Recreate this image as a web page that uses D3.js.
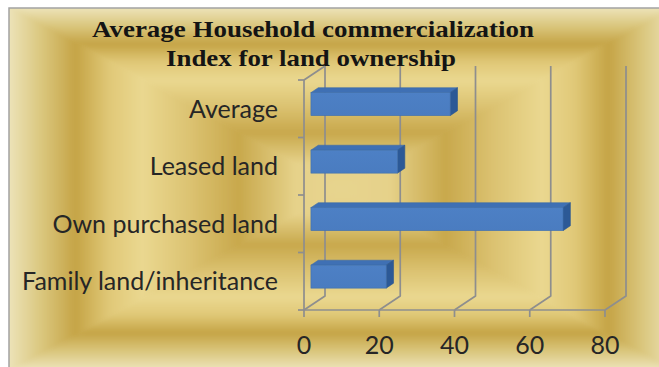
<!DOCTYPE html>
<html>
<head>
<meta charset="utf-8">
<script src="https://cdn.jsdelivr.net/npm/d3@7/dist/d3.min.js"></script>
<style>
  html, body { margin: 0; padding: 0; background: #ffffff; }
  svg { display: block; }
</style>
</head>
<body>
<svg id="chart" width="659" height="367"></svg>
<script>
// Chart data
const titleLines = ["Average Household commercialization", "Index for land ownership"];
const categories = ["Average", "Leased land", "Own purchased land", "Family land/inheritance"];
const values = [37, 23, 67, 20];
const xTicks = [0, 20, 40, 60, 80];

const svg = d3.select("#chart");

// Chart frame (extends slightly past the visible window on right and bottom)
const frame = { x0: 9, y0: 8, x1: 675, y1: 369 };
const cx = 342, cy = 189;

// Gold "from centre" rectangular gradient, built from four triangles
const defs = svg.append("defs");
const goldStops = [
  [0.00, "#e7d48e"],
  [0.14, "#e6d28a"],
  [0.31, "#c8a84c"],
  [0.46, "#dcc372"],
  [0.60, "#ead890"],
  [0.70, "#e0c877"],
  [0.80, "#c5a446"],
  [0.90, "#dac67c"],
  [1.00, "#ece3b8"]
];
function addGrad(id, x1, y1, x2, y2) {
  const g = defs.append("linearGradient").attr("id", id)
    .attr("gradientUnits", "userSpaceOnUse")
    .attr("x1", x1).attr("y1", y1).attr("x2", x2).attr("y2", y2);
  goldStops.forEach(s => g.append("stop").attr("offset", s[0]).attr("stop-color", s[1]));
}
addGrad("gTop", cx, cy, cx, frame.y0);
addGrad("gBottom", cx, cy, cx, frame.y1);
addGrad("gLeft", cx, cy, frame.x0, cy);
addGrad("gRight", cx, cy, frame.x1, cy);

defs.append("clipPath").attr("id", "frameClip")
  .append("rect").attr("x", frame.x0).attr("y", frame.y0)
  .attr("width", frame.x1 - frame.x0).attr("height", frame.y1 - frame.y0);
defs.append("filter").attr("id", "soft").attr("x", "-5%").attr("y", "-5%")
  .attr("width", "110%").attr("height", "110%")
  .append("feGaussianBlur").attr("stdDeviation", 2.2);

const bg = svg.append("g").attr("clip-path", "url(#frameClip)")
  .append("g").attr("filter", "url(#soft)");
const pad = 6;
const X0 = frame.x0 - pad, Y0 = frame.y0 - pad, X1 = frame.x1 + pad, Y1 = frame.y1 + pad;
const tris = [
  ["gTop", [[X0, Y0], [X1, Y0], [cx, cy]]],
  ["gBottom", [[X0, Y1], [X1, Y1], [cx, cy]]],
  ["gLeft", [[X0, Y0], [X0, Y1], [cx, cy]]],
  ["gRight", [[X1, Y0], [X1, Y1], [cx, cy]]]
];
tris.forEach(([id, pts]) => {
  bg.append("polygon").attr("points", pts.map(p => p.join(",")).join(" "))
    .attr("fill", `url(#${id})`).attr("stroke", `url(#${id})`).attr("stroke-width", 1);
});
svg.append("rect").attr("x", frame.x0).attr("y", frame.y0)
  .attr("width", frame.x1 - frame.x0).attr("height", frame.y1 - frame.y0)
  .attr("fill", "none").attr("stroke", "#a3a3a3").attr("stroke-width", 1.5);

// Scales
const x = d3.scaleLinear().domain([0, 80]).range([304, 605]);
const y = d3.scaleBand().domain(categories).range([80, 310])
  .paddingInner(0.6).paddingOuter(0.3);
const step = y.step();
const dX = 21, dY = -14;           // full depth offset of the 3-D box
const f1 = 0.33, f2 = 0.68;        // bar depth range
const gridColor = "#8e8e8e";
const yTop = 80, yBot = 310;

const grid = svg.append("g").attr("stroke", gridColor).attr("stroke-width", 1.7)
  .attr("fill", "none").attr("stroke-linejoin", "round");

// Back-wall value gridlines and floor diagonals
xTicks.forEach(v => {
  const xf = x(v);
  grid.append("path").attr("d",
    `M${xf},${yBot} L${xf + dX},${yBot + dY} L${xf + dX},${yTop + dY}`);
});
// Left wall top edge
grid.append("path").attr("d", `M${x(0)},${yTop} L${x(0) + dX},${yTop + dY}`);

// Front axes
grid.append("path").attr("d", `M${x(0)},${yTop} L${x(0)},${yBot} L${x(80)},${yBot}`);
// Category boundary ticks
const catBounds = [yTop].concat(categories.map((c, i) => yTop + step * (i + 1)));
catBounds.forEach(b => grid.append("line")
  .attr("x1", x(0) - 6).attr("x2", x(0)).attr("y1", b).attr("y2", b));
// Value ticks
xTicks.forEach(v => grid.append("line")
  .attr("x1", x(v)).attr("x2", x(v)).attr("y1", yBot).attr("y2", yBot + 7));

// Bars
const frontGrad = defs.append("linearGradient").attr("id", "barFront")
  .attr("x1", 0).attr("y1", 0).attr("x2", 0).attr("y2", 1);
frontGrad.append("stop").attr("offset", 0).attr("stop-color", "#4d80c5");
frontGrad.append("stop").attr("offset", 1).attr("stop-color", "#4a7cc0");

const bars = svg.append("g");
categories.forEach((c, i) => {
  const v = values[i];
  const xa = x(0), xb = x(v);
  const yt = y(c), yb = y(c) + y.bandwidth();
  const P = (px, py, f) => [px + f * dX, py + f * dY];
  const g = bars.append("g");
  // top face
  g.append("polygon").attr("points",
    [P(xa, yt, f1), P(xb, yt, f1), P(xb, yt, f2), P(xa, yt, f2)].map(p => p.join(",")).join(" "))
    .attr("fill", "#3f70b4").attr("stroke", "#3a69aa").attr("stroke-width", 0.6);
  // side face
  g.append("polygon").attr("points",
    [P(xb, yt, f1), P(xb, yt, f2), P(xb, yb, f2), P(xb, yb, f1)].map(p => p.join(",")).join(" "))
    .attr("fill", "#2c5996").attr("stroke", "#2a5590").attr("stroke-width", 0.6);
  // front face
  const [fx, fy] = P(xa, yt, f1);
  g.append("rect").attr("x", fx).attr("y", fy)
    .attr("width", xb - xa).attr("height", yb - yt)
    .attr("fill", "url(#barFront)").attr("stroke", "#3f6fae").attr("stroke-width", 0.6);
});

// Category labels
svg.append("g").selectAll("text").data(categories).join("text")
  .attr("x", 278).attr("y", d => y(d) + y.bandwidth() / 2).attr("dy", "0.36em")
  .attr("text-anchor", "end")
  .attr("font-family", "Lato, 'Open Sans', sans-serif").attr("font-size", 25)
  .attr("fill", "#262626").text(d => d);

// Value tick labels
svg.append("g").selectAll("text").data(xTicks).join("text")
  .attr("x", d => x(d)).attr("y", 354).attr("text-anchor", "middle")
  .attr("font-family", "Lato, 'Open Sans', sans-serif").attr("font-size", 25)
  .attr("fill", "#262626").text(d => d);

// Title
const titleWidths = [442, 290];
const titleBase = [37, 66];
const titleCx = [313, 311];
svg.append("g").selectAll("text").data(titleLines).join("text")
  .attr("x", (d, i) => titleCx[i]).attr("y", (d, i) => titleBase[i])
  .attr("text-anchor", "middle")
  .attr("font-family", "'Liberation Serif', 'DejaVu Serif', serif")
  .attr("font-weight", "bold").attr("font-size", 24)
  .attr("textLength", (d, i) => titleWidths[i]).attr("lengthAdjust", "spacingAndGlyphs")
  .attr("fill", "#141414").text(d => d);
</script>
</body>
</html>
